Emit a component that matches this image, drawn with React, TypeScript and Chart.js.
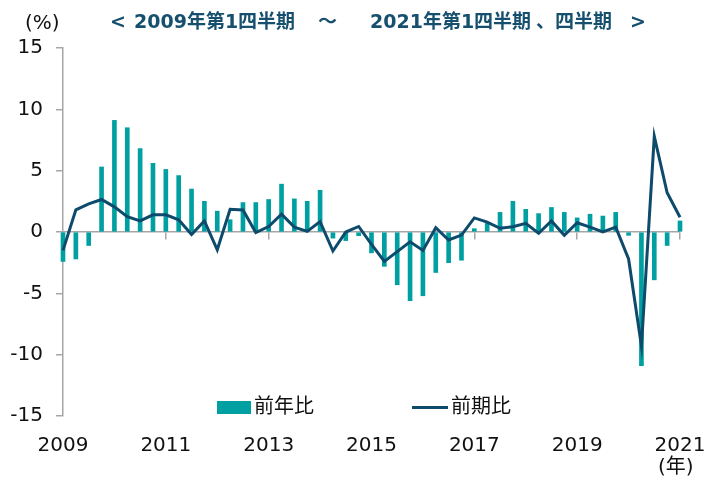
import React, { useEffect, useRef } from "react";
import { Chart, registerables } from "chart.js";

Chart.register(...registerables);

const startYear = 2009;
const quarters: string[] = [];
for (let i = 0; i < 49; i++) {
  quarters.push(`${startYear + Math.floor(i / 4)}Q${(i % 4) + 1}`);
}

const yearTickLabels = ["2009", "2011", "2013", "2015", "2017", "2019", "2021"];

// 前年比 (bars)
const yoy = [
  -2.4, -2.2, -1.1, 5.3, 9.1, 8.5, 6.8, 5.6, 5.1, 4.6, 3.5, 2.5, 1.7, 1.0, 2.4, 2.4,
  2.65, 3.9, 2.7, 2.5, 3.4, -0.5, -0.7, -0.3, -1.7, -2.8, -4.3, -5.6, -5.2, -3.3, -2.5, -2.3,
  0.27, 0.7, 1.6, 2.5, 1.85, 1.5, 2.0, 1.6, 1.15, 1.45, 1.3, 1.6, -0.27, -10.9, -3.9, -1.1,
  0.9,
];

// 前期比 (line)
const qoq = [
  -1.5, 1.8, 2.3, 2.65, 2.05, 1.25, 0.9, 1.4, 1.4, 1.0, -0.2, 0.9, -1.45, 1.85, 1.8, -0.05,
  0.45, 1.45, 0.4, 0.05, 0.85, -1.55, 0.0, 0.45, -1.0, -2.4, -1.6, -0.8, -1.5, 0.35, -0.65, -0.25,
  1.15, 0.8, 0.3, 0.43, 0.7, -0.1, 0.9, -0.27, 0.75, 0.4, 0.0, 0.4, -2.2, -9.3, 7.8, 3.2,
  1.2,
];

const TEAL = "#00a0a2";
const NAVY = "#0d4a6b";
const AXIS = "#a6a6a6";
const FONT = "'DejaVu Sans', 'Noto Sans CJK JP', sans-serif";

export default function App() {
  const ref = useRef<HTMLCanvasElement | null>(null);

  useEffect(() => {
    if (!ref.current) return;
    const chart = new Chart(ref.current, {
      type: "bar",
      data: {
        labels: quarters,
        datasets: [
          {
            type: "line",
            label: "前期比",
            data: qoq,
            borderColor: NAVY,
            backgroundColor: NAVY,
            borderWidth: 3,
            pointRadius: 0,
            tension: 0,
            order: 0,
            xAxisID: "x",
            yAxisID: "y",
            clip: false,
          } as any,
          {
            type: "bar",
            label: "前年比",
            data: yoy,
            backgroundColor: TEAL,
            barThickness: 4,
            order: 1,
            xAxisID: "x",
            yAxisID: "y",
            clip: false,
          } as any,
        ],
      },
      options: {
        responsive: false,
        animation: false,
        layout: { padding: { top: 48, right: 29, left: 0, bottom: 0 } },
        plugins: {
          legend: { display: false },
          tooltip: { enabled: false },
          title: { display: false },
        },
        scales: {
          x: {
            type: "category",
            position: "bottom",
            offset: false,
            grid: { display: false, offset: false, drawTicks: false },
            border: { display: false },
            ticks: {
              autoSkip: false,
              maxRotation: 0,
              padding: 18,
              color: "#111",
              font: { family: FONT, size: 20 },
              callback: (_v: any, index: number) =>
                index % 8 === 0 ? yearTickLabels[index / 8] : "",
            },
            afterFit: (s: any) => {
              s.height = 65;
              s.paddingLeft = 0;
              s.paddingRight = 0;
            },
          },
          x0: {
            type: "category",
            axis: "x",
            position: { y: 0 } as any,
            offset: false,
            grid: {
              offset: false,
              drawOnChartArea: false,
              drawTicks: true,
              tickLength: 7,
              lineWidth: 1.5,
              color: (ctx: any) => (ctx.index % 8 === 0 ? AXIS : "rgba(0,0,0,0)"),
            },
            border: { display: true, color: AXIS, width: 1.5 },
            ticks: { display: false, autoSkip: false },
            afterFit: (s: any) => {
              s.paddingLeft = 0;
              s.paddingRight = 0;
            },
          } as any,
          y: {
            type: "linear",
            position: "left",
            min: -15,
            max: 15,
            grid: {
              drawOnChartArea: false,
              drawTicks: true,
              tickLength: 7,
              color: AXIS,
              lineWidth: 1.5,
            },
            border: { display: true, color: AXIS, width: 1.5 },
            ticks: {
              stepSize: 5,
              padding: 13,
              color: "#111",
              font: { family: FONT, size: 20 },
            },
            afterFit: (s: any) => {
              s.width = 63;
              s.paddingTop = 0;
              s.paddingBottom = 0;
            },
          },
        },
      },
    });
    return () => chart.destroy();
  }, []);

  const txt: React.CSSProperties = {
    position: "absolute",
    fontFamily: FONT,
    fontSize: 20,
    color: "#111",
    whiteSpace: "nowrap",
    lineHeight: 1,
  };
  const ttl: React.CSSProperties = {
    ...txt,
    fontWeight: "bold",
    fontSize: 19,
    color: "#17506f",
    top: 12,
  };

  return (
    <div
      style={{
        position: "fixed",
        left: 0,
        top: 0,
        width: 709,
        height: 481,
        background: "#fff",
        overflow: "hidden",
      }}
    >
      <canvas ref={ref} width={709} height={481} style={{ position: "absolute", left: 0, top: 0 }} />
      <div style={{ ...txt, left: 25, top: 12 }}>(%)</div>
      <div style={{ ...ttl, left: 110 }}>&lt;</div>
      <div style={{ ...ttl, left: 134 }}>2009年第1四半期</div>
      <div style={{ ...ttl, left: 318 }}>～</div>
      <div style={{ ...ttl, left: 370 }}>2021年第1四半期</div>
      <div style={{ ...ttl, left: 536 }}>、四半期</div>
      <div style={{ ...ttl, left: 630 }}>&gt;</div>
      <div style={{ position: "absolute", left: 217, top: 401, width: 34, height: 13, background: TEAL }} />
      <div style={{ ...txt, left: 254, top: 396 }}>前年比</div>
      <div style={{ position: "absolute", left: 412, top: 406, width: 36, height: 3, background: NAVY }} />
      <div style={{ ...txt, left: 451, top: 396 }}>前期比</div>
      <div style={{ ...txt, left: 658, top: 456 }}>(年)</div>
    </div>
  );
}
